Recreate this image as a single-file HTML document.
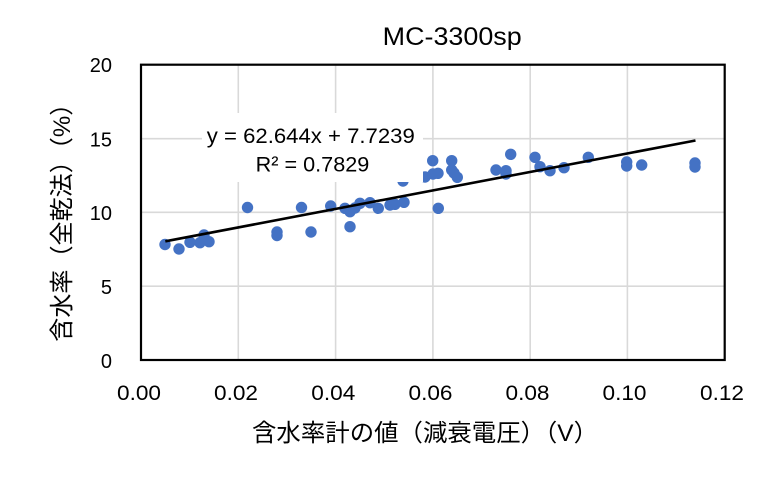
<!DOCTYPE html>
<html>
<head>
<meta charset="utf-8">
<style>
  html, body { margin: 0; padding: 0; background: #ffffff; }
  svg { display: block; }
  text { font-family: "Liberation Sans", "Noto Sans CJK JP", sans-serif; fill: #000; }
</style>
</head>
<body>
<svg width="760" height="482" viewBox="0 0 760 482" xmlns="http://www.w3.org/2000/svg">
  <rect x="0" y="0" width="760" height="482" fill="#ffffff"/>
  <g stroke="#d9d9d9" stroke-width="1.6">
    <line x1="238.3" y1="65" x2="238.3" y2="360"/>
    <line x1="335.6" y1="65" x2="335.6" y2="360"/>
    <line x1="432.9" y1="65" x2="432.9" y2="360"/>
    <line x1="530.2" y1="65" x2="530.2" y2="360"/>
    <line x1="627.4" y1="65" x2="627.4" y2="360"/>
    <line x1="141" y1="286.2" x2="725" y2="286.2"/>
    <line x1="141" y1="212.3" x2="725" y2="212.3"/>
    <line x1="141" y1="138.7" x2="725" y2="138.7"/>
  </g>
  <g fill="#4472c4">
    <circle cx="165" cy="244.5" r="5.7"/>
    <circle cx="179" cy="249" r="5.7"/>
    <circle cx="190" cy="242.3" r="5.7"/>
    <circle cx="200" cy="242.7" r="5.7"/>
    <circle cx="204" cy="235" r="5.7"/>
    <circle cx="209" cy="241.7" r="5.7"/>
    <circle cx="247.5" cy="207.5" r="5.7"/>
    <circle cx="277" cy="232" r="5.7"/>
    <circle cx="277" cy="235.5" r="5.7"/>
    <circle cx="301.5" cy="207.5" r="5.7"/>
    <circle cx="311" cy="232" r="5.7"/>
    <circle cx="330.7" cy="206" r="5.7"/>
    <circle cx="345" cy="208.3" r="5.7"/>
    <circle cx="350" cy="211.7" r="5.7"/>
    <circle cx="350" cy="226.7" r="5.7"/>
    <circle cx="355" cy="208" r="5.7"/>
    <circle cx="360" cy="203.3" r="5.7"/>
    <circle cx="370" cy="202.7" r="5.7"/>
    <circle cx="378.3" cy="208.3" r="5.7"/>
    <circle cx="390" cy="205" r="5.7"/>
    <circle cx="395" cy="204.3" r="5.7"/>
    <circle cx="404" cy="202.3" r="5.7"/>
    <circle cx="403" cy="181" r="5.7"/>
    <circle cx="425" cy="177" r="5.7"/>
    <circle cx="433" cy="174" r="5.7"/>
    <circle cx="438" cy="173.3" r="5.7"/>
    <circle cx="432.7" cy="160.7" r="5.7"/>
    <circle cx="438.3" cy="208.3" r="5.7"/>
    <circle cx="451.7" cy="160.7" r="5.7"/>
    <circle cx="451.7" cy="170" r="5.7"/>
    <circle cx="454" cy="173" r="5.7"/>
    <circle cx="457.3" cy="177.3" r="5.7"/>
    <circle cx="496" cy="170" r="5.7"/>
    <circle cx="506" cy="170.7" r="5.7"/>
    <circle cx="506" cy="174" r="5.7"/>
    <circle cx="510.7" cy="154.3" r="5.7"/>
    <circle cx="535" cy="157.3" r="5.7"/>
    <circle cx="540" cy="166.7" r="5.7"/>
    <circle cx="550" cy="170.7" r="5.7"/>
    <circle cx="564" cy="167.7" r="5.7"/>
    <circle cx="588.3" cy="157.3" r="5.7"/>
    <circle cx="626.7" cy="162" r="5.7"/>
    <circle cx="626.7" cy="166" r="5.7"/>
    <circle cx="641.7" cy="165" r="5.7"/>
    <circle cx="695" cy="163" r="5.7"/>
    <circle cx="695" cy="167" r="5.7"/>
  </g>
  <line x1="165.3" y1="241.3" x2="695.5" y2="140.5" stroke="#000" stroke-width="2.6"/>
  <rect x="202" y="113" width="221" height="69" fill="#ffffff"/>
  <text x="310.8" y="143" font-size="21.5" text-anchor="middle" textLength="208" lengthAdjust="spacingAndGlyphs">y = 62.644x + 7.7239</text>
  <text x="312.5" y="171.5" font-size="21.5" text-anchor="middle" textLength="113.6" lengthAdjust="spacingAndGlyphs">R² = 0.7829</text>
  <rect x="141" y="64.7" width="583.7" height="295.3" fill="none" stroke="#000" stroke-width="2.2"/>
  <text x="452.2" y="45" font-size="25" text-anchor="middle" textLength="139" lengthAdjust="spacingAndGlyphs">MC-3300sp</text>
  <g font-size="20" text-anchor="end">
    <text x="112" y="72">20</text>
    <text x="112" y="146.5">15</text>
    <text x="112" y="220">10</text>
    <text x="112" y="294">5</text>
    <text x="112" y="368">0</text>
  </g>
  <g font-size="21" text-anchor="middle">
    <text x="139" y="400" textLength="44" lengthAdjust="spacingAndGlyphs">0.00</text>
    <text x="236" y="400" textLength="44" lengthAdjust="spacingAndGlyphs">0.02</text>
    <text x="333.3" y="400" textLength="44" lengthAdjust="spacingAndGlyphs">0.04</text>
    <text x="430.5" y="400" textLength="44" lengthAdjust="spacingAndGlyphs">0.06</text>
    <text x="527.5" y="400" textLength="44" lengthAdjust="spacingAndGlyphs">0.08</text>
    <text x="624.5" y="400" textLength="44" lengthAdjust="spacingAndGlyphs">0.10</text>
    <text x="722" y="400" textLength="44" lengthAdjust="spacingAndGlyphs">0.12</text>
  </g>
  <text x="425" y="441" font-size="24" text-anchor="middle" textLength="346" lengthAdjust="spacingAndGlyphs">含水率計の値（減衰電圧）（V）</text>
  <text transform="translate(70,216.7) rotate(-90)" x="0" y="0" font-size="24" text-anchor="middle" textLength="250" lengthAdjust="spacingAndGlyphs">含水率（全乾法）（%）</text>
</svg>
</body>
</html>
